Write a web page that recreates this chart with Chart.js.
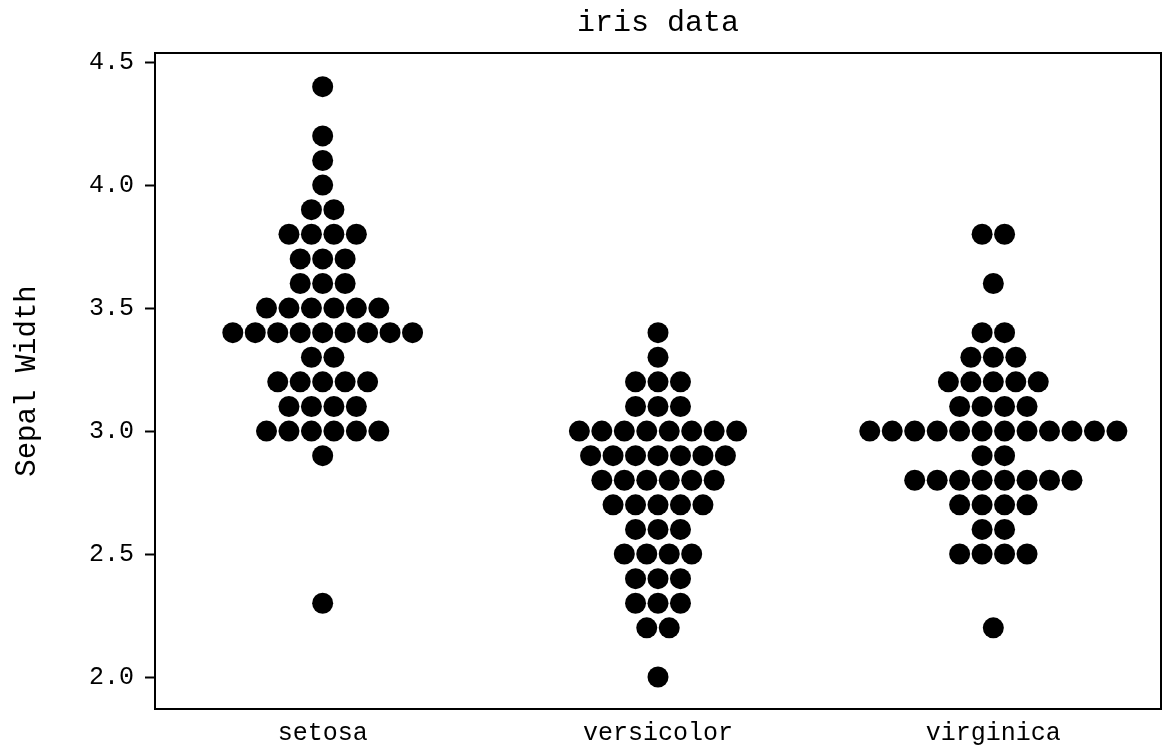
<!DOCTYPE html>
<html lang="en">
<head>
    <meta charset="UTF-8" />
    <title>iris data</title>
    <script src="https://cdn.jsdelivr.net/npm/chart.js"></script>
    <style>
        body { margin: 0; background: #fff; overflow: hidden; }
        canvas { display: block; }
    </style>
</head>
<body>
    <canvas id="swarm" width="1162" height="751"></canvas>

    <script>
        // sepal width values
        const chartTitle = 'iris data';
        const categories = ['setosa', 'versicolor', 'virginica'];
        const setosa = [4.4, 4.2, 4.1, 4.0, 3.9, 3.9, 3.8, 3.8, 3.8, 3.8, 3.7, 3.7, 3.7,
            3.6, 3.6, 3.6, 3.5, 3.5, 3.5, 3.5, 3.5, 3.5, 3.4, 3.4, 3.4, 3.4, 3.4, 3.4, 3.4, 3.4, 3.4,
            3.3, 3.3, 3.2, 3.2, 3.2, 3.2, 3.2, 3.1, 3.1, 3.1, 3.1, 3.0, 3.0, 3.0, 3.0, 3.0, 3.0, 2.9, 2.3];
        const versicolor = [3.4, 3.3, 3.2, 3.2, 3.2, 3.1, 3.1, 3.1, 3.0, 3.0, 3.0, 3.0, 3.0, 3.0, 3.0, 3.0,
            2.9, 2.9, 2.9, 2.9, 2.9, 2.9, 2.9, 2.8, 2.8, 2.8, 2.8, 2.8, 2.8, 2.7, 2.7, 2.7, 2.7, 2.7,
            2.6, 2.6, 2.6, 2.5, 2.5, 2.5, 2.5, 2.4, 2.4, 2.4, 2.3, 2.3, 2.3, 2.2, 2.2, 2.0];
        const virginica = [3.8, 3.8, 3.6, 3.4, 3.4, 3.3, 3.3, 3.3, 3.2, 3.2, 3.2, 3.2, 3.2, 3.1, 3.1, 3.1, 3.1,
            3.0, 3.0, 3.0, 3.0, 3.0, 3.0, 3.0, 3.0, 3.0, 3.0, 3.0, 3.0, 2.9, 2.9,
            2.8, 2.8, 2.8, 2.8, 2.8, 2.8, 2.8, 2.8, 2.7, 2.7, 2.7, 2.7, 2.6, 2.6, 2.5, 2.5, 2.5, 2.5, 2.2];
        const yTicks = [2.0, 2.5, 3.0, 3.5, 4.0, 4.5];

        const dotGap = 0.067; // horizontal step between dots, in category units

        // lay each species out as a swarm: equal values side by side, centred
        function swarm(values, idx) {
            const groups = {};
            values.forEach(v => { (groups[v] = groups[v] || []).push(v); });
            const pts = [];
            Object.keys(groups).forEach(k => {
                const n = groups[k].length;
                groups[k].forEach((v, i) => {
                    pts.push({ x: idx + (i - (n - 1) / 2) * dotGap, y: v });
                });
            });
            return pts;
        }

        const font = 'Liberation Mono, DejaVu Sans Mono, monospace';

        // box round the plot area, and the title centred over it
        const frame = {
            id: 'frame',
            afterDraw(chart) {
                const { ctx, chartArea: a } = chart;
                ctx.save();
                ctx.strokeStyle = '#000';
                ctx.lineWidth = 2;
                ctx.strokeRect(a.left, a.top, a.right - a.left, a.bottom - a.top);
                ctx.fillStyle = '#000';
                ctx.font = '30px ' + font;
                ctx.textAlign = 'center';
                ctx.textBaseline = 'middle';
                ctx.fillText(chartTitle, (a.left + a.right) / 2, 23);
                ctx.restore();
            }
        };

        new Chart(document.getElementById('swarm'), {
            type: 'scatter',
            data: {
                datasets: [setosa, versicolor, virginica].map((vals, i) => ({
                    label: categories[i],
                    data: swarm(vals, i),
                    backgroundColor: '#000',
                    borderWidth: 0,
                    pointRadius: 10.5,
                    pointHoverRadius: 10.5
                }))
            },
            options: {
                responsive: false,
                animation: false,
                layout: { autoPadding: false, padding: { left: 0, right: 1, top: 53, bottom: 0 } },
                plugins: {
                    legend: { display: false },
                    tooltip: { enabled: false },
                    title: { display: false }
                },
                scales: {
                    x: {
                        type: 'linear',
                        min: -0.5,
                        max: 2.5,
                        afterBuildTicks: s => { s.ticks = categories.map((c, i) => ({ value: i })); },
                        afterFit: s => { s.height = 42; s.paddingLeft = 0; s.paddingRight = 0; },
                        grid: { display: false, drawTicks: false },
                        border: { display: false },
                        ticks: {
                            color: '#000',
                            padding: 9,
                            font: { family: font, size: 25 },
                            callback: v => categories[v]
                        }
                    },
                    y: {
                        min: 1.87,
                        max: 4.537,
                        afterBuildTicks: s => { s.ticks = yTicks.map(v => ({ value: v })); },
                        afterFit: s => { s.width = 155; s.paddingTop = 0; s.paddingBottom = 0; },
                        grid: {
                            drawOnChartArea: false,
                            drawTicks: true,
                            tickLength: 10,
                            tickWidth: 2,
                            tickColor: '#000'
                        },
                        border: { display: false },
                        ticks: {
                            color: '#000',
                            padding: 11,
                            font: { family: font, size: 25 },
                            callback: v => v.toFixed(1)
                        },
                        title: {
                            display: true,
                            text: 'Sepal Width',
                            color: '#000',
                            font: { family: font, size: 29 },
                            padding: { top: 10, bottom: 0 }
                        }
                    }
                }
            },
            plugins: [frame]
        });
    </script>
</body>
</html>
